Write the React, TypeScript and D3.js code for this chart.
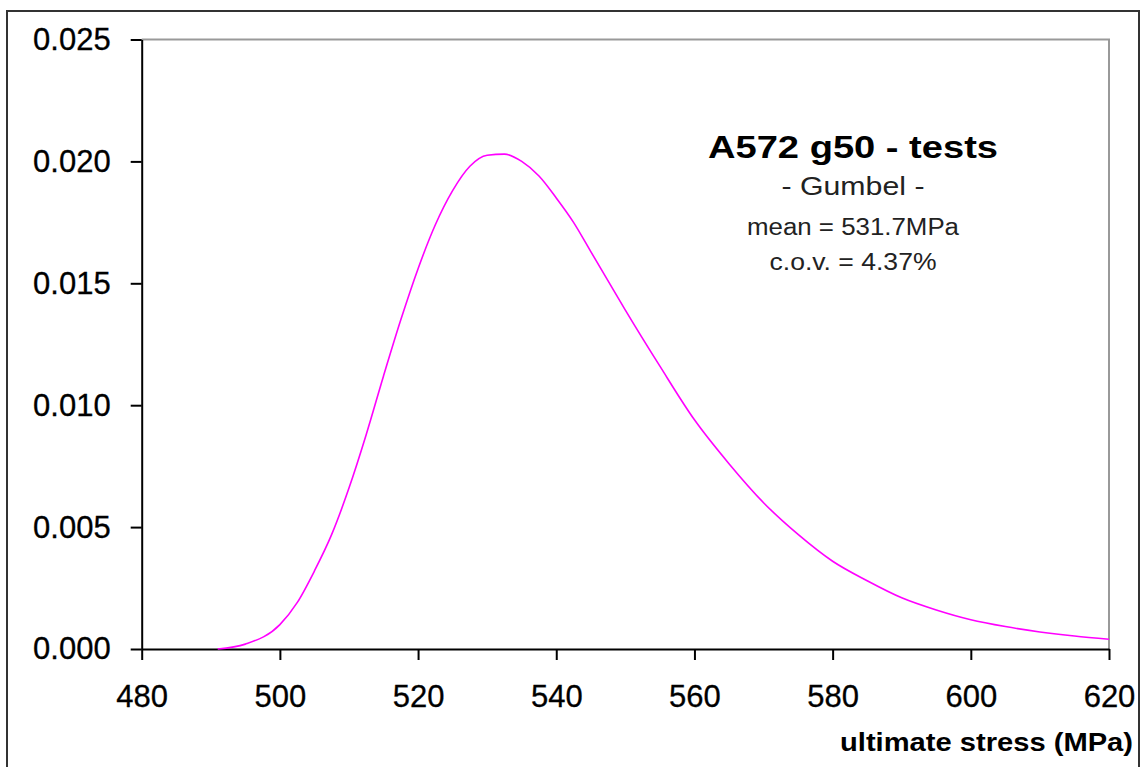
import React, { Component } from "react";
import * as d3 from "d3";

// ultimate stress (MPa) and probability density
const stress = [
  491, 495, 500, 502.5, 505, 507.5, 510, 512.5, 515, 517.5, 520, 522.5, 525,
  527.5, 530, 532.5, 535, 537.5, 540, 542.5, 545, 547.5, 550, 555, 560, 565,
  570, 575, 580, 585, 590, 595, 600, 605, 610, 615, 620,
];
const density = [
  0.0, 0.0002, 0.001, 0.0019, 0.0032, 0.0047, 0.0066, 0.0088, 0.0112, 0.0135,
  0.0156, 0.0174, 0.0188, 0.0198, 0.02025, 0.0203, 0.02, 0.0194, 0.0185,
  0.0175, 0.0163, 0.0151, 0.0139, 0.0116, 0.0094, 0.0076, 0.006, 0.0047,
  0.0036, 0.0028, 0.0021, 0.0016, 0.0012, 0.00092, 0.0007, 0.00053, 0.0004,
];
const xTicks = [480, 500, 520, 540, 560, 580, 600, 620];
const yTicks = [0, 0.005, 0.01, 0.015, 0.02, 0.025];

const title = "A572 g50 - tests";
const distName = "- Gumbel -";
const meanText = "mean = 531.7MPa";
const covText = "c.o.v. = 4.37%";
const xTitle = "ultimate stress (MPa)";

const FONT = "'Liberation Sans', Arial, sans-serif";

class App extends Component {
  node: HTMLDivElement | null = null;

  componentDidMount() {
    const W = 1144;
    const H = 767;
    const plot = { left: 141.7, top: 39.5, right: 1109, bottom: 649 };

    const root = d3.select(this.node);
    root.selectAll("*").remove();

    const svg = root
      .append("svg")
      .attr("width", W)
      .attr("height", H)
      .style("display", "block")
      .style("background", "#fff");

    // outer frame
    svg
      .append("rect")
      .attr("x", 7)
      .attr("y", 11)
      .attr("width", 1132)
      .attr("height", 780)
      .attr("fill", "none")
      .attr("stroke", "#333")
      .attr("stroke-width", 2);

    const x = d3.scaleLinear().domain([480, 620]).range([plot.left, plot.right]);
    const y = d3.scaleLinear().domain([0, 0.025]).range([plot.bottom, plot.top]);

    // grey plot-area edges (top + right)
    svg
      .append("path")
      .attr("d", `M${plot.left},${plot.top}H${plot.right}V${plot.bottom}`)
      .attr("fill", "none")
      .attr("stroke", "#999")
      .attr("stroke-width", 2);

    const yAxis = svg
      .append("g")
      .attr("transform", `translate(${plot.left},0)`)
      .call(
        d3
          .axisLeft(y)
          .tickValues(yTicks)
          .tickSize(11)
          .tickSizeOuter(0)
          .tickPadding(20)
          .tickFormat(d3.format(".3f"))
      );

    const xAxis = svg
      .append("g")
      .attr("transform", `translate(0,${plot.bottom})`)
      .call(
        d3
          .axisBottom(x)
          .tickValues(xTicks)
          .tickSize(11)
          .tickSizeOuter(0)
          .tickPadding(25)
          .tickFormat(d3.format("d"))
      );

    [yAxis, xAxis].forEach((ax) => {
      ax.select(".domain").attr("stroke", "#000").attr("stroke-width", 2);
      ax.selectAll(".tick line").attr("stroke", "#000").attr("stroke-width", 2);
      ax.selectAll(".tick text")
        .attr("fill", "#000")
        .attr("stroke", "#000")
        .attr("stroke-width", 0.3)
        .style("font-family", FONT)
        .style("font-size", "31px");
    });

    // the density curve
    const pts = stress.map((s, i) => [s, density[i]] as [number, number]);
    const line = d3
      .line<[number, number]>()
      .x((d) => x(d[0]))
      .y((d) => y(d[1]))
      .curve(d3.curveMonotoneX);

    svg
      .append("path")
      .datum(pts)
      .attr("d", line)
      .attr("fill", "none")
      .attr("stroke", "#ff00ff")
      .attr("stroke-width", 1.6);

    // annotation block
    const notes = [
      { t: title, size: 32, weight: "bold", y: 158, len: 290 },
      { t: distName, size: 25, weight: "normal", y: 195, len: 143 },
      { t: meanText, size: 23, weight: "normal", y: 235, len: 212 },
      { t: covText, size: 23, weight: "normal", y: 270, len: 167 },
    ];
    svg
      .selectAll("text.note")
      .data(notes)
      .enter()
      .append("text")
      .attr("class", "note")
      .attr("x", 853)
      .attr("y", (d) => d.y)
      .attr("text-anchor", "middle")
      .attr("textLength", (d) => d.len)
      .attr("lengthAdjust", "spacingAndGlyphs")
      .style("font-family", FONT)
      .style("font-size", (d) => d.size + "px")
      .style("font-weight", (d) => d.weight)
      .attr("fill", (d) => (d.weight === "bold" ? "#000" : "#222"))
      .text((d) => d.t);

    // x axis title
    svg
      .append("text")
      .attr("x", 1133)
      .attr("y", 751)
      .attr("text-anchor", "end")
      .attr("textLength", 293)
      .attr("lengthAdjust", "spacingAndGlyphs")
      .style("font-family", FONT)
      .style("font-size", "26px")
      .style("font-weight", "bold")
      .text(xTitle);
  }

  render() {
    return (
      <div
        ref={(el) => {
          this.node = el;
        }}
        style={{ position: "absolute", left: 0, top: 0, width: 1144, height: 767, overflow: "hidden" }}
      />
    );
  }
}

export default App;
